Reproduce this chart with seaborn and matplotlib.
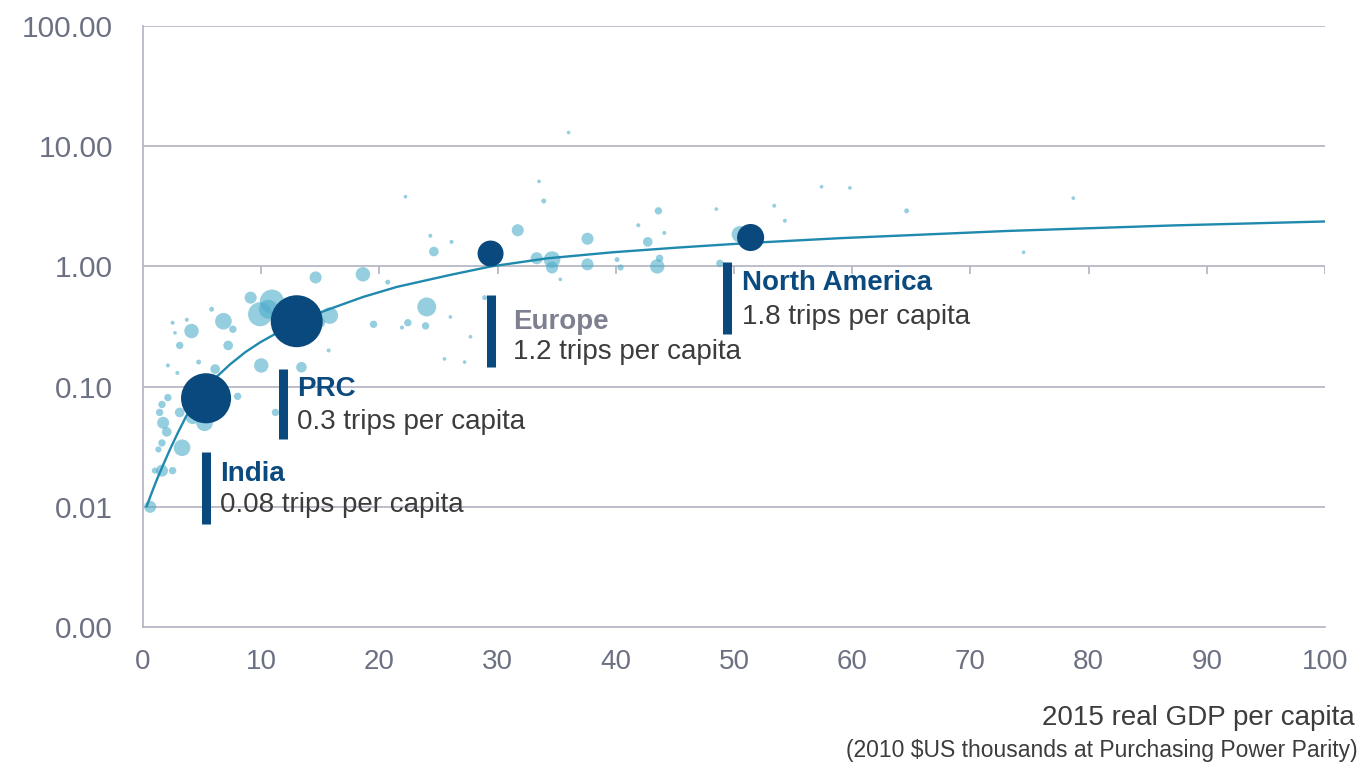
import numpy as np
import pandas as pd
import matplotlib
matplotlib.use("Agg")
import matplotlib.pyplot as plt
import seaborn as sns

# ---------------- data ----------------
# small country bubbles: GDP per capita (k$ PPP), trips per capita, bubble area
light_gdp = [9.1, 6.8, 4.1, 3.1, 2.5, 3.7, 2.7, 5.8, 7.2, 7.6, 4.7, 6.1, 2.1, 2.9,
             10.0, 13.4, 10.6, 8.0, 2.1, 1.6, 1.4, 1.7, 3.1, 4.2, 5.2, 2.0, 3.3,
             1.6, 1.3, 1.6, 2.5, 1.0, 0.6, 11.2, 15.7, 15.0, 14.6, 18.6, 20.7,
             24.6, 24.3, 10.9, 9.9, 15.8, 24.0, 22.4, 23.9, 21.9, 19.5, 36.0,
             22.2, 33.5, 33.9, 31.7, 26.1, 33.3, 34.6, 34.6, 37.6, 37.6, 40.1,
             40.4, 43.6, 41.9, 44.1, 42.7, 43.5, 43.7, 28.9, 27.7, 26.0, 25.5,
             27.2, 35.3, 48.5, 53.4, 54.3, 59.8, 50.5, 48.8, 64.6, 78.7, 74.5,
             57.4, 12.0, 13.8, 5.6]
light_trips = [0.55, 0.35, 0.29, 0.22, 0.34, 0.36, 0.28, 0.44, 0.22, 0.30, 0.16,
               0.14, 0.15, 0.13, 0.15, 0.145, 0.44, 0.083, 0.081, 0.071, 0.061,
               0.050, 0.061, 0.056, 0.050, 0.042, 0.031, 0.034, 0.030, 0.020,
               0.020, 0.020, 0.010, 0.061, 0.20, 0.34, 0.81, 0.86, 0.74, 1.33,
               1.8, 0.51, 0.40, 0.39, 0.46, 0.34, 0.32, 0.31, 0.33, 13.0, 3.8,
               5.1, 3.5, 2.0, 1.6, 1.17, 1.14, 0.98, 1.7, 1.04, 1.14, 0.98, 2.9,
               2.2, 1.9, 1.6, 1.0, 1.17, 0.55, 0.26, 0.38, 0.17, 0.16, 0.78, 3.0,
               3.2, 2.4, 4.5, 1.85, 1.06, 2.9, 3.7, 1.31, 4.6, 0.30, 0.39, 0.068]
light_size = [52, 100, 75, 19, 5, 5, 4, 8, 33, 19, 8, 33, 5, 5, 75, 40, 130, 19,
              19, 19, 19, 52, 33, 75, 100, 33, 100, 19, 13, 52, 19, 13, 52, 19,
              5, 33, 52, 75, 8, 33, 5, 210, 210, 100, 130, 19, 19, 5, 19, 4, 4,
              4, 8, 52, 5, 52, 100, 52, 52, 52, 8, 13, 19, 5, 5, 33, 75, 19, 8,
              4, 4, 4, 4, 4, 4, 5, 5, 4, 100, 19, 8, 4, 4, 4, 150, 200, 150]

# highlighted regions
region_names = ["India", "PRC", "Europe", "North America"]
region_gdp = [5.33, 13.0, 29.4, 51.4]
region_trips = [0.080, 0.35, 1.28, 1.74]
region_size = [1300, 1400, 350, 380]
region_labels = ["0.08 trips per capita", "0.3 trips per capita",
                 "1.2 trips per capita", "1.8 trips per capita"]

# fitted trend line
curve_gdp = [0.30, 0.68, 1.14, 1.61, 2.28, 2.96, 3.64, 4.48, 5.33, 6.26, 7.36,
             8.63, 9.90, 11.34, 13.03, 15.23, 18.61, 21.49, 25.97, 29.44, 34.18,
             39.76, 45.43, 51.44, 58.97, 73.10, 87.14, 100.0]
curve_trips = [0.01007, 0.01268, 0.0166, 0.02128, 0.03006, 0.04159, 0.05649,
               0.07674, 0.0984, 0.1216, 0.1531, 0.1928, 0.2333, 0.2799, 0.3388,
               0.4227, 0.557, 0.676, 0.849, 1.0, 1.167, 1.312, 1.439, 1.570,
               1.718, 1.972, 2.193, 2.366]

x_ticks = [0, 10, 20, 30, 40, 50, 60, 70, 80, 90, 100]
y_ticks = [0.001, 0.01, 0.1, 1, 10, 100]
y_ticklabels = ["0.00", "0.01", "0.10", "1.00", "10.00", "100.00"]

# annotation layout (bar markers and label anchors)
bar_x = [5.33, 11.8, 29.4, 49.4]
bar_top = [0.0284, 0.139, 0.574, 1.08]
bar_bottom = [0.00714, 0.0364, 0.1445, 0.272]
text_x = [6.5, 13.0, 31.3, 50.7]
title_y = [0.0188, 0.0948, 0.345, 0.722]
value_y = [0.0103, 0.0504, 0.193, 0.376]
title_colors = ["#0B4A7E", "#0B4A7E", "#7D8090", "#0B4A7E"]

# ---------------- styling ----------------
NAVY = "#0A497D"
LIGHT = "#4FAECB"
CURVE = "#2089AE"
GRID = "#B2B3C0"
TICKC = "#6C7083"

sns.set_theme(style="white")
plt.rcParams["font.family"] = ["Liberation Sans", "DejaVu Sans"]

fig = plt.figure(figsize=(13.69, 7.68), dpi=100)
ax = fig.add_axes([0.1045, 0.1836, 0.8634, 0.7825])

light_df = pd.DataFrame({"gdp": light_gdp, "trips": light_trips, "size": light_size})
region_df = pd.DataFrame({"gdp": region_gdp, "trips": region_trips,
                          "size": region_size, "name": region_names})
curve_df = pd.DataFrame({"gdp": curve_gdp, "trips": curve_trips})

sns.scatterplot(data=light_df, x="gdp", y="trips", size="size",
                sizes=(7, 300), size_norm=(4, 210), color=LIGHT, alpha=0.6,
                linewidth=0, legend=False, ax=ax, zorder=3)
sns.lineplot(data=curve_df, x="gdp", y="trips", color=CURVE, lw=1.7,
             ax=ax, zorder=4, sort=True)
sns.scatterplot(data=region_df, x="gdp", y="trips", size="size",
                sizes=(350, 1400), size_norm=(350, 1400), color=NAVY,
                linewidth=0, legend=False, ax=ax, zorder=5)

ax.set_yscale("log")
ax.set_xlim(0, 100)
ax.set_ylim(0.001, 100)
ax.set_xticks(x_ticks)
ax.set_xticklabels([str(t) for t in x_ticks])
ax.set_yticks(y_ticks)
ax.set_yticklabels(y_ticklabels)
ax.minorticks_off()
ax.yaxis.set_minor_locator(matplotlib.ticker.NullLocator())
ax.set_xlabel("")
ax.set_ylabel("")

ax.grid(False)
for v in y_ticks[1:]:
    ax.axhline(v, color=GRID, lw=1.2, zorder=1)
# tick marks hanging below the 1.00 line (axis crossing)
ax.vlines(x_ticks[1:], 10 ** (-8 / 120.2), 1.0, color=GRID, lw=1.2, zorder=1)

for s in ["top", "right"]:
    ax.spines[s].set_visible(False)
for s in ["left", "bottom"]:
    ax.spines[s].set_color(GRID)
    ax.spines[s].set_linewidth(1.2)

ax.tick_params(axis="y", which="major", length=7.5, width=1.2, color=GRID,
               direction="out", pad=14, labelsize=21.5, labelcolor=TICKC)
ax.tick_params(axis="x", which="major", length=0, pad=16, labelsize=20,
               labelcolor=TICKC)

# annotations
for i in range(len(region_names)):
    ax.vlines(bar_x[i], bar_bottom[i], bar_top[i], color=NAVY, lw=6.5,
              zorder=6, capstyle="butt")
    ax.text(text_x[i], title_y[i], region_names[i], fontsize=20,
            fontweight="bold", color=title_colors[i], va="center", ha="left",
            zorder=7)
    ax.text(text_x[i], value_y[i], region_labels[i], fontsize=20,
            color="#3C3C3C", va="center", ha="left", zorder=7)

fig.text(1355 / 1369, 1 - 718 / 768, "2015 real GDP per capita", fontsize=20,
         color="#3C3C3C", ha="right", va="center")
fig.text(1358 / 1369, 1 - 751 / 768,
         "(2010 $US thousands at Purchasing Power Parity)", fontsize=16.5,
         color="#3C3C3C", ha="right", va="center")

fig.savefig("out.png", dpi=100)
